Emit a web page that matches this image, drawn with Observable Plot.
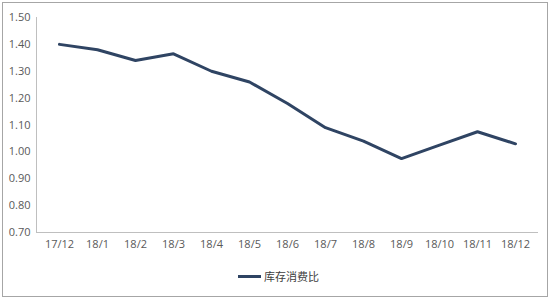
<!DOCTYPE html>
<html><head><meta charset="utf-8">
<script src="https://cdn.jsdelivr.net/npm/d3@7"></script>
<script src="https://cdn.jsdelivr.net/npm/@observablehq/plot@0.6"></script>
<style>
body{margin:0;background:#fff;font-family:"Open Sans","Noto Sans CJK SC",sans-serif;}
#box{position:absolute;left:2px;top:2px;width:544px;height:293px;border:1px solid #a6a6a6;background:#fff;}
#legend{position:absolute;left:235px;top:265px;display:flex;align-items:center;font-size:11px;color:#404040;font-family:"Noto Sans CJK SC",sans-serif;}
#legend span.sw{display:inline-block;width:23px;height:3px;background:#2f4463;margin-right:3px;}
</style></head>
<body><div id="box"><div id="chart"></div><div id="legend"><span class="sw"></span><span>库存消费比</span></div></div>
<script>
const months = ["17/12","18/1","18/2","18/3","18/4","18/5","18/6","18/7","18/8","18/9","18/10","18/11","18/12"];
const ratio = [1.40,1.38,1.34,1.365,1.30,1.26,1.18,1.09,1.04,0.975,1.025,1.075,1.03];
const yTicks = [0.7,0.8,0.9,1.0,1.1,1.2,1.3,1.4,1.5];
const data = months.map((m,i)=>({month:m, value:ratio[i]}));
const chart = Plot.plot({
  width:544, height:255,
  marginLeft:33, marginRight:10, marginTop:14, marginBottom:26,
  style:{fontSize:"11px", fontFamily:"'Open Sans',sans-serif", color:"#595959", background:"transparent"},
  x:{type:"point", domain:months, padding:0.5, label:null, tickSize:0, tickPadding:8},
  y:{domain:[0.7,1.5], ticks:yTicks, tickFormat:d=>d.toFixed(2), label:null, tickSize:0, tickPadding:6},
  marks:[
    Plot.frame({anchor:"left", stroke:"#bfbfbf"}),
    Plot.frame({anchor:"bottom", stroke:"#bfbfbf"}),
    Plot.line(data,{x:"month", y:"value", stroke:"#2f4463", strokeWidth:3, strokeLinejoin:"miter"})
  ]
});
document.getElementById("chart").appendChild(chart);
</script></body></html>
